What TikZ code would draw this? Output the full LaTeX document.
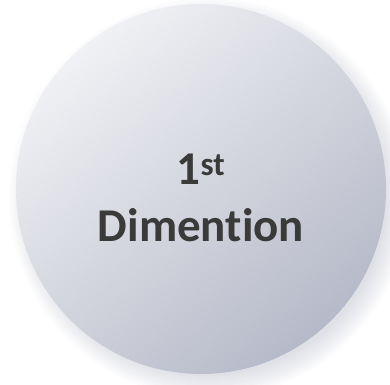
\documentclass[tikz,border=0pt]{standalone}
\usepackage{fontspec}
\setmainfont{Carlito}[Ligatures=NoCommon]
\usetikzlibrary{positioning}

\definecolor{discLight}{HTML}{F0F1F4}
\definecolor{discDark}{HTML}{B6B9C8}
\definecolor{labelGray}{HTML}{3A3A3A}
\definecolor{shadowGray}{HTML}{6E7390}

\begin{document}
\begin{tikzpicture}[
    x=1pt, y=1pt,
    disc/.style={circle, minimum size=370pt, inner sep=0pt,
                 top color=discLight, bottom color=discDark, shading angle=40},
    lbl/.style={font=\fontsize{47}{57}\selectfont\bfseries, text=labelGray,
                align=center},
]
\useasboundingbox (0,0) rectangle (390,384);

% soft shadow
\foreach \i in {1,...,12} {
    \fill[shadowGray, opacity=0.018] (209,186) circle (176+2*\i);
}

% disc and label
\node[disc] (disc) at (201,195) {};
\node[lbl] (title) at ([yshift=-9pt]disc.center) {1\textsuperscript{st}\\Dimention};

\end{tikzpicture}
\end{document}
